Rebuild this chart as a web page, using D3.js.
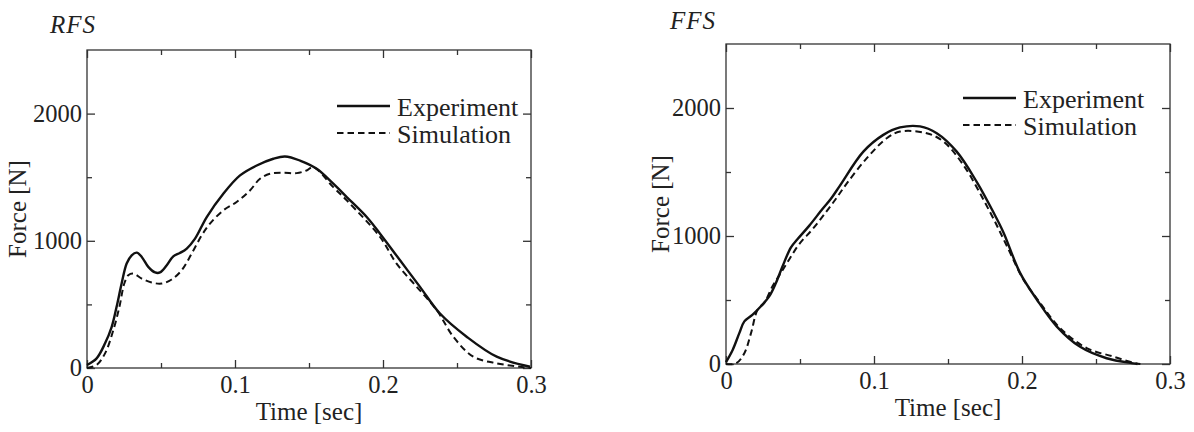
<!DOCTYPE html>
<html>
<head>
<meta charset="utf-8">
<script src="https://cdn.jsdelivr.net/npm/d3@7"></script>
<style>
  body { margin: 0; background: #fff; }
  svg { display: block; }
  text { font-family: "Liberation Serif", "Times New Roman", serif; fill: #222; }
</style>
</head>
<body>
<svg id="chart" width="1194" height="432"></svg>
<script>
// ---- data ----
var xMajorTicks = [0, 0.1, 0.2, 0.3];
var xMinorTicks = [0.05, 0.15, 0.25];
var yMajorTicks = [0, 1000, 2000];
var yMinorTicks = [500, 1500];
var xTickLabels = ["0", "0.1", "0.2", "0.3"];
var yTickLabels = ["0", "1000", "2000"];
var seriesNames = ["Experiment", "Simulation"];

// RFS
var rfsExpTime  = [0, 0.0065, 0.0122, 0.0167, 0.02, 0.0234, 0.0268, 0.0302, 0.0336, 0.037, 0.0414, 0.046, 0.0493, 0.0539, 0.0583, 0.0628, 0.0674, 0.073, 0.0809, 0.0921, 0.1034, 0.1147, 0.1259, 0.1338, 0.1439, 0.1552, 0.1664, 0.1755, 0.189, 0.198, 0.2115, 0.225, 0.2385, 0.2565, 0.2768, 0.2993];
var rfsExpForce = [24, 76, 194, 324, 481, 664, 821, 886, 907, 873, 795, 751, 751, 808, 878, 904, 939, 1017, 1187, 1370, 1514, 1592, 1645, 1663, 1631, 1566, 1449, 1344, 1187, 1056, 847, 638, 428, 246, 89, 10];
var rfsSimTime  = [0, 0.0065, 0.0122, 0.0178, 0.0219, 0.0252, 0.0279, 0.0313, 0.037, 0.0437, 0.0505, 0.0572, 0.064, 0.0707, 0.0775, 0.0831, 0.0921, 0.1011, 0.1101, 0.1169, 0.1236, 0.1326, 0.1417, 0.1484, 0.1529, 0.1664, 0.1755, 0.198, 0.2092, 0.2228, 0.2363, 0.2475, 0.261, 0.2768, 0.2926, 0.3];
var rfsSimForce = [0, 24, 115, 298, 481, 664, 729, 742, 703, 672, 664, 696, 769, 899, 1043, 1135, 1239, 1305, 1396, 1488, 1527, 1535, 1532, 1553, 1579, 1422, 1318, 1030, 820, 638, 455, 246, 89, 37, 10, 0];

// FFS
var ffsExpTime  = [0, 0.0045, 0.009, 0.0124, 0.018, 0.0236, 0.0293, 0.0338, 0.0383, 0.0439, 0.0484, 0.0563, 0.0653, 0.0709, 0.077, 0.0928, 0.1063, 0.1176, 0.1311, 0.1424, 0.1559, 0.1694, 0.1806, 0.1874, 0.1986, 0.21, 0.2234, 0.239, 0.2572, 0.2752, 0.278];
var ffsExpForce = [15, 110, 241, 333, 386, 451, 530, 635, 766, 911, 976, 1081, 1213, 1291, 1394, 1659, 1790, 1848, 1856, 1803, 1659, 1423, 1187, 1030, 714, 504, 294, 136, 45, 5, 0];
var ffsSimTime  = [0, 0.0068, 0.0124, 0.0169, 0.0214, 0.0259, 0.0315, 0.0372, 0.0428, 0.0495, 0.0586, 0.0676, 0.0743, 0.0815, 0.095, 0.1086, 0.1176, 0.1356, 0.1469, 0.1604, 0.1784, 0.1897, 0.2009, 0.2122, 0.2257, 0.2437, 0.2617, 0.2752, 0.28];
var ffsSimForce = [0, 5, 84, 241, 425, 478, 609, 714, 819, 937, 1055, 1187, 1291, 1409, 1606, 1764, 1816, 1803, 1738, 1554, 1187, 924, 661, 478, 281, 124, 58, 10, 0];

var svg = d3.select("#chart");

var panels = [
  { title: "RFS", left: 87, top: 50, bottom: 368, right: 531,
    titleX: 50, titleY: 33, yLabelX: 26,
    exp: [rfsExpTime, rfsExpForce], sim: [rfsSimTime, rfsSimForce],
    legendX: 250, legendY: 56 },
  { title: "FFS", left: 726, top: 44, bottom: 364, right: 1170,
    titleX: 670, titleY: 29, yLabelX: 669,
    exp: [ffsExpTime, ffsExpForce], sim: [ffsSimTime, ffsSimForce],
    legendX: 237, legendY: 54 }
];

panels.forEach(function (p) {
  var width = p.right - p.left,
      height = p.bottom - p.top;

  var x = d3.scaleLinear().domain([0, 0.3]).range([0, width]);
  var y = d3.scaleLinear().domain([0, 2500]).range([height, 0]);

  var g = svg.append("g")
    .attr("transform", "translate(" + p.left + "," + p.top + ")");

  // frame
  g.append("rect")
    .attr("width", width).attr("height", height)
    .attr("fill", "none").attr("stroke", "#333").attr("stroke-width", 1.3);

  function styleAxis(sel) {
    sel.select(".domain").remove();
    sel.selectAll("line").attr("stroke", "#333").attr("stroke-width", 1.3);
    sel.selectAll("text").style("font-size", "24.5px").attr("fill", "#222")
      .style("font-family", "'Liberation Serif', 'Times New Roman', serif");
  }

  // bottom axis with labels
  g.append("g").attr("transform", "translate(0," + height + ")")
    .call(d3.axisBottom(x).tickValues(xMajorTicks).tickSize(-8).tickPadding(8)
      .tickFormat(function (d, i) { return xTickLabels[i]; }))
    .call(styleAxis);
  g.append("g").attr("transform", "translate(0," + height + ")")
    .call(d3.axisBottom(x).tickValues(xMinorTicks).tickSize(-5).tickFormat(""))
    .call(styleAxis);
  // top
  g.append("g")
    .call(d3.axisTop(x).tickValues(xMajorTicks).tickSize(-8).tickFormat(""))
    .call(styleAxis);
  g.append("g")
    .call(d3.axisTop(x).tickValues(xMinorTicks).tickSize(-5).tickFormat(""))
    .call(styleAxis);
  // left axis with labels
  g.append("g")
    .call(d3.axisLeft(y).tickValues(yMajorTicks).tickSize(-8).tickPadding(5)
      .tickFormat(function (d, i) { return yTickLabels[i]; }))
    .call(styleAxis);
  g.append("g")
    .call(d3.axisLeft(y).tickValues(yMinorTicks).tickSize(-5).tickFormat(""))
    .call(styleAxis);
  // right
  g.append("g").attr("transform", "translate(" + width + ",0)")
    .call(d3.axisRight(y).tickValues(yMajorTicks).tickSize(-8).tickFormat(""))
    .call(styleAxis);
  g.append("g").attr("transform", "translate(" + width + ",0)")
    .call(d3.axisRight(y).tickValues(yMinorTicks).tickSize(-5).tickFormat(""))
    .call(styleAxis);

  // curves
  var line = d3.line()
    .x(function (d) { return x(d[0]); })
    .y(function (d) { return y(d[1]); })
    .curve(d3.curveCatmullRom.alpha(0.5));

  var expData = p.exp[0].map(function (t, i) { return [t, p.exp[1][i]]; });
  var simData = p.sim[0].map(function (t, i) { return [t, p.sim[1][i]]; });

  g.append("path").datum(simData)
    .attr("d", line).attr("fill", "none")
    .attr("stroke", "#111").attr("stroke-width", 2)
    .attr("stroke-dasharray", "6.5,4");
  g.append("path").datum(expData)
    .attr("d", line).attr("fill", "none")
    .attr("stroke", "#111").attr("stroke-width", 2.4);

  // legend
  var lg = g.append("g").attr("transform", "translate(" + p.legendX + "," + p.legendY + ")");
  seriesNames.forEach(function (name, i) {
    var yy = i * 27;
    lg.append("line")
      .attr("x1", 0).attr("x2", 53).attr("y1", yy).attr("y2", yy)
      .attr("stroke", "#111").attr("stroke-width", i === 0 ? 2.4 : 2)
      .attr("stroke-dasharray", i === 0 ? null : "6.5,4");
    lg.append("text")
      .attr("x", 60).attr("y", yy + 10)
      .style("font-size", "26px")
      .text(name);
  });

  // axis titles
  g.append("text")
    .attr("x", width / 2).attr("y", height + 52)
    .attr("text-anchor", "middle")
    .style("font-size", "25px")
    .text("Time [sec]");

  svg.append("text")
    .attr("transform", "translate(" + p.yLabelX + "," + (p.top + height / 2) + ") rotate(-90)")
    .attr("text-anchor", "middle")
    .style("font-size", "25px")
    .text("Force [N]");

  svg.append("text")
    .attr("x", p.titleX).attr("y", p.titleY)
    .style("font-size", "25px").style("font-style", "italic")
    .style("letter-spacing", "1px")
    .text(p.title);
});
</script>
</body>
</html>
